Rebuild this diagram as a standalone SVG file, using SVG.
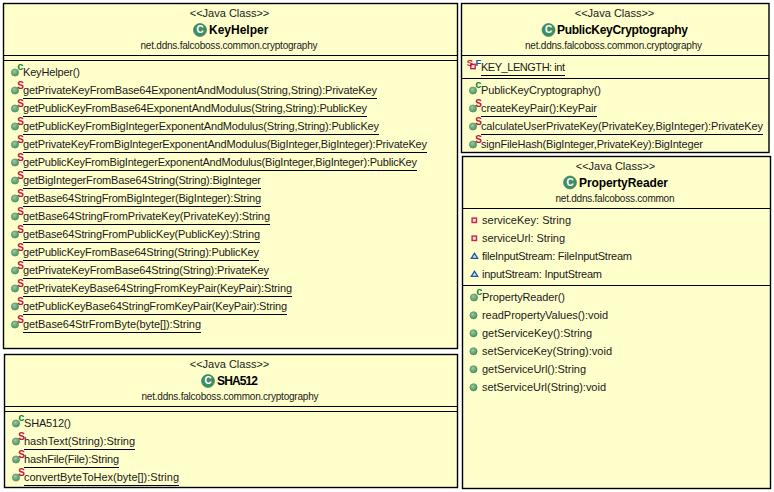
<svg xmlns="http://www.w3.org/2000/svg" width="774" height="492" viewBox="0 0 774 492">
<defs>
<radialGradient id="g" cx="0.4" cy="0.35" r="0.75"><stop offset="0" stop-color="#9cc9a4"/><stop offset="1" stop-color="#3f8a56"/></radialGradient>
<g id="m"><circle cx="0" cy="0" r="3.6" fill="url(#g)" stroke="#4d8f63" stroke-width="0.7"/></g>
<g id="ms"><use href="#m"/><text x="2.2" y="-1.5" class="s">S</text></g>
<g id="mc"><use href="#m"/><text x="2.2" y="-2.4" class="c">c</text></g>
<g id="priv"><rect x="-2.2" y="-2.2" width="4.4" height="4.4" fill="#fbe4e4" stroke="#cc1f48" stroke-width="1.4"/></g>
<path id="prot" d="M-3.2 2.4L0-2.8L3.2 2.4Z" fill="#cfe2f2" stroke="#1c5aa8" stroke-width="1.3"/>
<g id="ci"><circle cx="0" cy="0" r="6.5" fill="#3f8f66"/><circle cx="0" cy="0" r="6.5" fill="none" stroke="#2d7450" stroke-width="0.6"/><text x="0" y="3.4" class="ci">C</text></g>
</defs>
<style>
text{font-family:"Liberation Sans",Arial,sans-serif;font-size:11px;fill:#1a1a1a}
.box{fill:#ffffcc;stroke:#000;stroke-width:1.4}
.d{stroke:#000;stroke-width:1;fill:none}
.u{stroke:#000;stroke-width:1;fill:none}
.n{font-weight:bold;font-size:12px;text-anchor:start;fill:#000}
.st{text-anchor:middle}
.p{font-size:10px;text-anchor:middle}
.s{font-size:10px;font-weight:bold;fill:#cc1040}
.c{font-size:11px;font-weight:bold;fill:#0a8a3a}
.ci{font-size:10px;font-weight:bold;fill:#fff;text-anchor:middle}
.sf{font-size:9.5px;font-weight:bold;fill:#cc1040}
.f{font-size:9.5px;font-weight:bold;fill:#1c5aa8}
</style>
<g id="connectors"/>
<g id="KeyHelper">
<rect class="box" x="3.5" y="3.5" width="454" height="345"/>
<text class="st" x="229.5" y="17">&lt;&lt;Java Class&gt;&gt;</text>
<use href="#ci" x="200" y="30"/><text class="n" x="209" y="34">KeyHelper</text>
<text class="p" x="229" y="49" textLength="177">net.ddns.falcoboss.common.cryptography</text>
<path class="d" d="M4 55.5H457M4 60.5H457"/>
<use href="#mc" x="15" y="72.5"/><text x="23" y="76" textLength="57">KeyHelper()</text>
<use href="#ms" x="15" y="90.5"/><text x="23" y="94" textLength="354">getPrivateKeyFromBase64ExponentAndModulus(String,String):PrivateKey</text><path class="u" d="M23 98.5H377"/>
<use href="#ms" x="15" y="108.5"/><text x="23" y="112" textLength="344">getPublicKeyFromBase64ExponentAndModulus(String,String):PublicKey</text><path class="u" d="M23 116.5H367"/>
<use href="#ms" x="15" y="126.5"/><text x="23" y="130" textLength="356">getPublicKeyFromBigIntegerExponentAndModulus(String,String):PublicKey</text><path class="u" d="M23 134.5H379"/>
<use href="#ms" x="15" y="144.5"/><text x="23" y="148" textLength="404">getPrivateKeyFromBigIntegerExponentAndModulus(BigInteger,BigInteger):PrivateKey</text><path class="u" d="M23 152.5H427"/>
<use href="#ms" x="15" y="162.5"/><text x="23" y="166" textLength="394">getPublicKeyFromBigIntegerExponentAndModulus(BigInteger,BigInteger):PublicKey</text><path class="u" d="M23 170.5H417"/>
<use href="#ms" x="15" y="180.5"/><text x="23" y="184" textLength="238">getBigIntegerFromBase64String(String):BigInteger</text><path class="u" d="M23 188.5H261"/>
<use href="#ms" x="15" y="198.5"/><text x="23" y="202" textLength="238">getBase64StringFromBigInteger(BigInteger):String</text><path class="u" d="M23 206.5H261"/>
<use href="#ms" x="15" y="216.5"/><text x="23" y="220" textLength="247">getBase64StringFromPrivateKey(PrivateKey):String</text><path class="u" d="M23 224.5H270"/>
<use href="#ms" x="15" y="234.5"/><text x="23" y="238" textLength="237">getBase64StringFromPublicKey(PublicKey):String</text><path class="u" d="M23 242.5H260"/>
<use href="#ms" x="15" y="252.5"/><text x="23" y="256" textLength="236">getPublicKeyFromBase64String(String):PublicKey</text><path class="u" d="M23 260.5H259"/>
<use href="#ms" x="15" y="270.5"/><text x="23" y="274" textLength="246">getPrivateKeyFromBase64String(String):PrivateKey</text><path class="u" d="M23 278.5H269"/>
<use href="#ms" x="15" y="288.5"/><text x="23" y="292" textLength="269">getPrivateKeyBase64StringFromKeyPair(KeyPair):String</text><path class="u" d="M23 296.5H292"/>
<use href="#ms" x="15" y="306.5"/><text x="23" y="310" textLength="264">getPublicKeyBase64StringFromKeyPair(KeyPair):String</text><path class="u" d="M23 314.5H287"/>
<use href="#ms" x="15" y="324.5"/><text x="23" y="328" textLength="178">getBase64StrFromByte(byte[]):String</text><path class="u" d="M23 332.5H201"/>
</g>
<g id="SHA512">
<rect class="box" x="4.5" y="354.5" width="453" height="133"/>
<text class="st" x="229.5" y="368">&lt;&lt;Java Class&gt;&gt;</text>
<use href="#ci" x="208" y="381"/><text class="n" x="217" y="385" textLength="41">SHA512</text>
<text class="p" x="230" y="400" textLength="177">net.ddns.falcoboss.common.cryptography</text>
<path class="d" d="M5 406.5H457M5 411.5H457"/>
<use href="#mc" x="16" y="423.5"/><text x="24" y="427" textLength="47">SHA512()</text>
<use href="#ms" x="16" y="441.5"/><text x="24" y="445" textLength="111">hashText(String):String</text><path class="u" d="M24 449.5H135"/>
<use href="#ms" x="16" y="459.5"/><text x="24" y="463" textLength="95">hashFile(File):String</text><path class="u" d="M24 467.5H119"/>
<use href="#ms" x="16" y="477.5"/><text x="24" y="481" textLength="155">convertByteToHex(byte[]):String</text><path class="u" d="M24 485.5H179"/>
</g>
<g id="PublicKeyCryptography">
<rect class="box" x="461.5" y="3.5" width="307.5" height="149"/>
<text class="st" x="614.5" y="17">&lt;&lt;Java Class&gt;&gt;</text>
<use href="#ci" x="548.5" y="30"/><text class="n" x="557" y="34" textLength="131">PublicKeyCryptography</text>
<text class="p" x="613.5" y="49" textLength="177">net.ddns.falcoboss.common.cryptography</text>
<path class="d" d="M462 55.5H769M462 78.5H769"/>
<use href="#priv" x="473" y="66.5"/><text x="466.8" y="66" class="sf">S</text><text x="475.6" y="66" class="f">F</text>
<text x="481" y="71" textLength="84">KEY_LENGTH: int</text><path class="u" d="M481 75.5H565"/>
<use href="#mc" x="473" y="90.5"/><text x="481" y="94" textLength="120">PublicKeyCryptography()</text>
<use href="#ms" x="473" y="108.5"/><text x="481" y="112" textLength="116">createKeyPair():KeyPair</text><path class="u" d="M481 116.5H597"/>
<use href="#ms" x="473" y="126.5"/><text x="481" y="130" textLength="282">calculateUserPrivateKey(PrivateKey,BigInteger):PrivateKey</text><path class="u" d="M481 134.5H763"/>
<use href="#ms" x="473" y="144.5"/><text x="481" y="148" textLength="222">signFileHash(BigInteger,PrivateKey):BigInteger</text>
</g>
<g id="PropertyReader">
<rect class="box" x="462.5" y="156.5" width="308" height="332"/>
<text class="st" x="615.5" y="170">&lt;&lt;Java Class&gt;&gt;</text>
<use href="#ci" x="570" y="182.5"/><text class="n" x="579" y="187" textLength="89">PropertyReader</text>
<text class="p" x="615" y="202" textLength="119">net.ddns.falcoboss.common</text>
<path class="d" d="M463 208.5H770M463 285.5H770"/>
<use href="#priv" x="474.3" y="220.3"/><text x="482" y="224" textLength="89">serviceKey: String</text>
<use href="#priv" x="474.3" y="238.3"/><text x="482" y="242" textLength="83">serviceUrl: String</text>
<use href="#prot" x="474.5" y="256"/><text x="482" y="260" textLength="150">fileInputStream: FileInputStream</text>
<use href="#prot" x="474.5" y="274"/><text x="482" y="278" textLength="120">inputStream: InputStream</text>
<use href="#mc" x="474" y="297.5"/><text x="482" y="301" textLength="83">PropertyReader()</text>
<use href="#m" x="473.5" y="315.3"/><text x="482" y="319" textLength="126">readPropertyValues():void</text>
<use href="#m" x="473.5" y="333.3"/><text x="482" y="337" textLength="110">getServiceKey():String</text>
<use href="#m" x="473.5" y="351.3"/><text x="482" y="355" textLength="130">setServiceKey(String):void</text>
<use href="#m" x="473.5" y="369.3"/><text x="482" y="373" textLength="104">getServiceUrl():String</text>
<use href="#m" x="473.5" y="387.3"/><text x="482" y="391" textLength="124">setServiceUrl(String):void</text>
</g>
</svg>
